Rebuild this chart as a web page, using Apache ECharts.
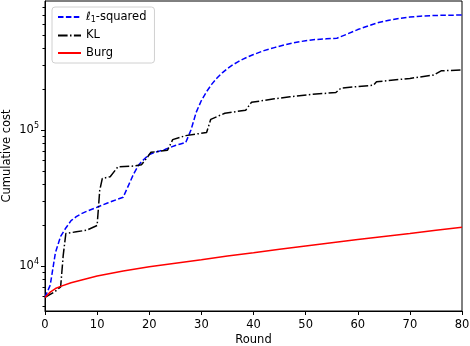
<!DOCTYPE html>
<html>
<head>
<meta charset="utf-8">
<script src="https://cdn.jsdelivr.net/npm/echarts@6/dist/echarts.min.js"></script>
<style>
   html, body { margin: 0; padding: 0; background: #fff; }
   #chart { width: 470px; height: 346px; }
</style>
</head>
<body>
<div id="chart"></div>
<script>
   // data: [round, cumulative cost]
   var l1Squared = [
      [0, 5850], [1, 7200], [2, 12500], [3, 16500], [4, 19000], [5, 21500], [6, 23000],
      [7, 24200], [8, 25200], [9, 26100], [10, 27000], [11, 28000], [12, 29000],
      [13, 30000], [14, 31000], [15, 32000], [16, 39000], [17, 47500], [18, 55500],
      [19, 61000], [20, 66000], [21, 68500], [22, 70000], [23, 72000], [24, 74500],
      [25, 77000], [26, 79000], [27, 81000], [28, 100000], [29, 135000], [30, 165000],
      [31, 192000], [32, 218000], [33, 242000], [34, 264000], [35, 284000], [36, 302000],
      [37, 318000], [38, 333000], [39, 347000], [40, 360000], [42, 385000], [44, 405000],
      [46, 425000], [48, 442000], [50, 455000], [52, 465000], [54, 470000], [56, 475000],
      [58, 510000], [60, 550000], [62, 585000], [64, 620000], [66, 645000], [68, 665000],
      [70, 680000], [72, 690000], [74, 697000], [76, 700000], [78, 702000], [80, 704000]
   ];
   var kl = [
      [0, 5850], [1, 6150], [2, 6500], [3, 7000], [3.5, 12000], [4, 17300], [6, 17800],
      [8, 18300], [10, 19800], [10.5, 36000], [11, 44000], [12.5, 45300], [14, 53700],
      [17, 54300], [18.5, 55500], [19.5, 62000], [20.3, 68500], [23.5, 71000],
      [24.5, 85000], [27, 91000], [31, 96000], [31.8, 120000], [34.5, 133000],
      [38.5, 140000], [39.6, 160000], [44, 170000], [47, 176000], [51, 183000],
      [55.8, 189000], [56.8, 204000], [63, 214000], [63.6, 227000], [70, 240000],
      [74.5, 254000], [76, 273000], [80, 277000]
   ];
   var burg = [
      [0, 5850], [1, 6400], [2, 6800], [3, 7050], [5, 7500], [10, 8400], [15, 9150],
      [20, 9850], [25, 10450], [30, 11100], [35, 11800], [40, 12500], [45, 13250],
      [50, 14000], [55, 14800], [60, 15600], [65, 16450], [70, 17300], [75, 18250],
      [80, 19200]
   ];
   var seriesNames = ['ℓ1-squared', 'KL', 'Burg'];
   var majorTicks = [10000, 100000];
   var minorTicks = [5000, 6000, 7000, 8000, 9000, 20000, 30000, 40000, 50000, 60000,
      70000, 80000, 90000, 200000, 300000, 400000, 500000, 600000, 700000, 800000];

   var font = 'DejaVu Sans';
   var fs = 11.5;
   var yMin = 4645, yMax = 893000;

   var myChart = echarts.init(document.getElementById('chart'), null, {renderer: 'canvas'});
   var option = {
      animation: false,
      grid: {
         left: 45, right: 8, top: 1, bottom: 35,
         containLabel: false, outerBoundsMode: 'none',
         show: true, borderColor: '#000', borderWidth: 1
      },
      legend: {
         left: 52, top: 7,
         orient: 'vertical',
         itemWidth: 23, itemHeight: 10, itemGap: 5.5,
         padding: [4, 8, 4, 5],
         borderColor: '#d0d0d0', borderWidth: 1, borderRadius: 3,
         backgroundColor: '#fff',
         itemStyle: {opacity: 0},
         data: seriesNames,
         formatter: function(name){
            if(name === seriesNames[0]) return '{i|ℓ}{s|1}-squared';
            return name;
         },
         textStyle: {
            fontFamily: font, fontSize: fs, color: '#000',
            rich: {
               i: {fontFamily: font, fontSize: fs, fontStyle: 'italic', color: '#000'},
               s: {fontFamily: font, fontSize: 8, color: '#000', padding: [6, 0, 0, 0]}
            }
         }
      },
      xAxis: {
         type: 'value', min: 0, max: 80, interval: 10,
         name: 'Round', nameLocation: 'middle', nameGap: 23, nameMoveOverlap: false,
         nameTextStyle: {fontFamily: font, fontSize: fs, color: '#000'},
         axisLine: {lineStyle: {color: '#000', width: 1}},
         axisTick: {length: 4, lineStyle: {color: '#000'}},
         axisLabel: {fontFamily: font, fontSize: fs, color: '#000', margin: 8},
         splitLine: {show: false}
      },
      yAxis: [
         {
            type: 'log', logBase: 10, min: yMin, max: yMax, position: 'left',
            name: 'Cumulative cost', nameLocation: 'middle', nameGap: 32, nameMoveOverlap: false,
            nameTextStyle: {fontFamily: font, fontSize: fs, color: '#000'},
            axisLine: {lineStyle: {color: '#000', width: 1}},
            axisTick: {length: 4, lineStyle: {color: '#000'}, customValues: majorTicks},
            axisLabel: {
               fontFamily: font, fontSize: fs, color: '#000', margin: 6,
               customValues: majorTicks,
               formatter: function(v){
                  return '10{s|' + Math.round(Math.log10(v)) + '}';
               },
               rich: {s: {fontFamily: font, fontSize: 8, color: '#000', padding: [0, 0, 8, 0]}}
            },
            splitLine: {show: false}
         },
         {
            // minor ticks of the log axis, on a linear axis in log10 units
            type: 'value', min: Math.log10(yMin), max: Math.log10(yMax), position: 'left',
            axisLine: {show: false},
            axisTick: {show: true, length: 2.5, lineStyle: {color: '#000'},
               customValues: minorTicks.map(Math.log10)},
            axisLabel: {show: true, customValues: minorTicks.map(Math.log10),
               formatter: function(){ return ''; }},
            splitLine: {show: false}
         }
      ],
      series: [
         {
            name: seriesNames[0], type: 'line', data: l1Squared, symbol: 'none',
            lineStyle: {color: '#0000ff', width: 1.5, type: [5.5, 2.4]},
            itemStyle: {color: '#0000ff'}
         },
         {
            name: seriesNames[1], type: 'line', data: kl, symbol: 'none',
            lineStyle: {color: '#000', width: 1.5, type: [9.6, 2.4, 1.5, 2.4]},
            itemStyle: {color: '#000'}
         },
         {
            name: seriesNames[2], type: 'line', data: burg, symbol: 'none',
            lineStyle: {color: '#ff0000', width: 1.5},
            itemStyle: {color: '#ff0000'}
         }
      ]
   };
   myChart.setOption(option);
</script>
</body>
</html>
